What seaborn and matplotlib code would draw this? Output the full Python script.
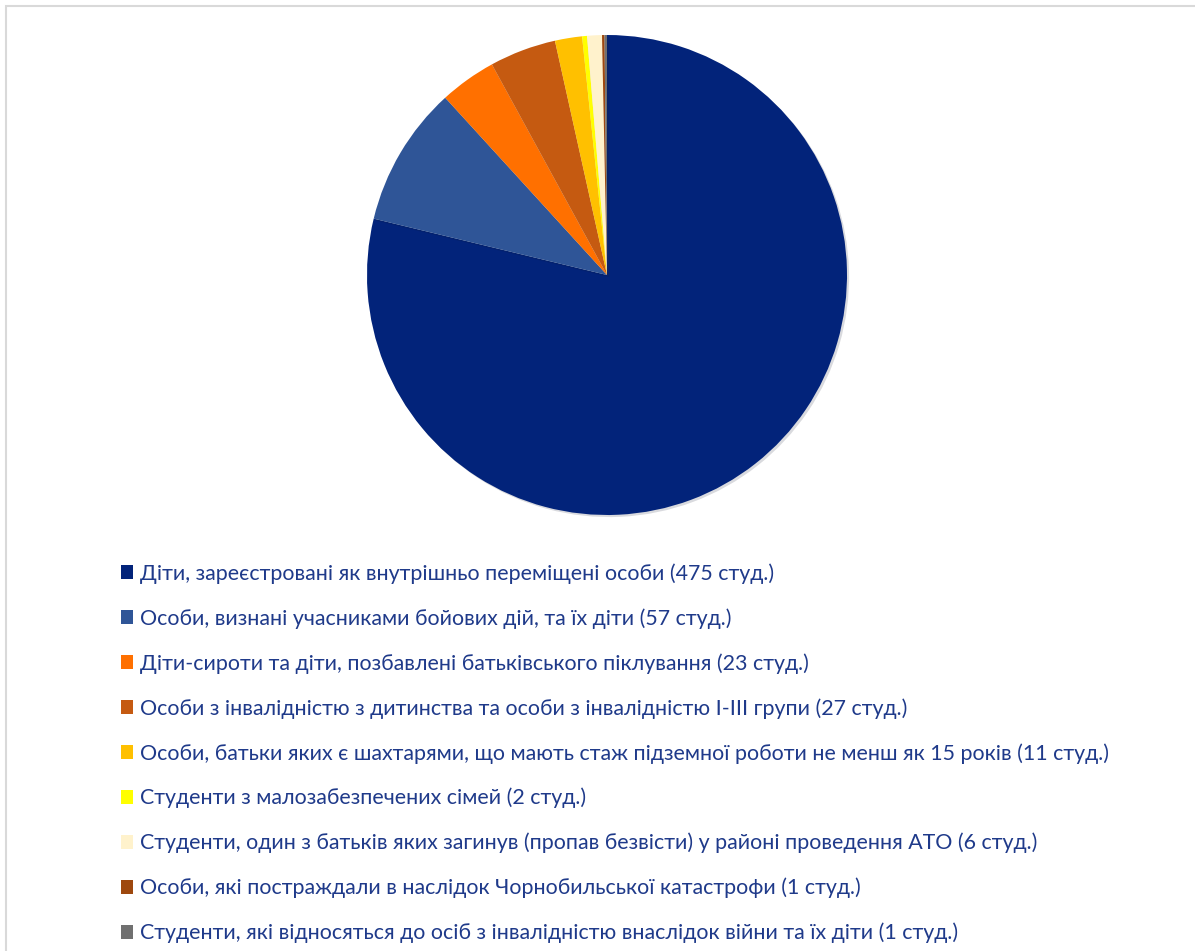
import matplotlib
matplotlib.use("Agg")
import matplotlib.pyplot as plt
import matplotlib.patches as mpatches
import matplotlib.patheffects as pe
import seaborn as sns

sns.set_theme(style="white")
plt.rcParams['font.family'] = ['Lato', 'DejaVu Sans']

categories = [
    "Діти, зареєстровані як внутрішньо переміщені особи (475 студ.)",
    "Особи, визнані учасниками бойових дій, та їх діти (57 студ.)",
    "Діти-сироти та діти, позбавлені батьківського піклування (23 студ.)",
    "Особи з інвалідністю з дитинства та особи з інвалідністю I-III групи (27 студ.)",
    "Особи, батьки яких є шахтарями, що мають стаж підземної роботи не менш як 15 років (11 студ.)",
    "Студенти з малозабезпечених сімей (2 студ.)",
    "Студенти, один з батьків яких загинув (пропав безвісти) у районі проведення АТО (6 студ.)",
    "Особи, які постраждали в наслідок Чорнобильської катастрофи (1 студ.)",
    "Студенти, які відносяться до осіб з інвалідністю внаслідок війни та їх діти (1 студ.)",
]
values = [475, 57, 23, 27, 11, 2, 6, 1, 1]
colors = ["#02237A", "#2F5597", "#FF7000", "#C55A11", "#FFC000",
          "#FFFF00", "#FFF2CC", "#9E480E", "#707070"]
text_color = "#1F3A8A"

W, H = 1195, 951
fig = plt.figure(figsize=(W / 100, H / 100), dpi=100)
fig.patch.set_facecolor("white")

# chart border
fig.patches.append(mpatches.Rectangle((6.5 / W, -0.1), 1.2, 1 - 6.5 / H + 0.1,
                                      transform=fig.transFigure, fill=False,
                                      edgecolor="#D9D9D9", linewidth=1.5))

cx, cy, r = 607, 275, 240
ax = fig.add_axes([(cx - r) / W, (H - cy - r) / H, 2 * r / W, 2 * r / H])
wedges, _ = ax.pie(values, colors=colors, startangle=90, counterclock=False,
                   radius=1.0, wedgeprops=dict(linewidth=0))
for w in wedges:
    w.set_path_effects([pe.SimplePatchShadow(offset=(1.5, -1.5), alpha=0.15), pe.Normal()])
ax.set_xlim(-1, 1)
ax.set_ylim(-1, 1)
ax.set_aspect("equal")
ax.axis("off")

handles = [mpatches.Patch(facecolor=c, edgecolor="none") for c in colors]
leg = fig.legend(handles, categories, loc="upper left",
                 bbox_to_anchor=(121 / W, 1 - 563 / H), frameon=False,
                 fontsize=15.4, handlelength=0.58, handleheight=0.58,
                 handletextpad=0.33, labelspacing=1.14, borderpad=0,
                 borderaxespad=0)
for t in leg.get_texts():
    t.set_color(text_color)

fig.savefig("out.png", dpi=100, facecolor="white")
